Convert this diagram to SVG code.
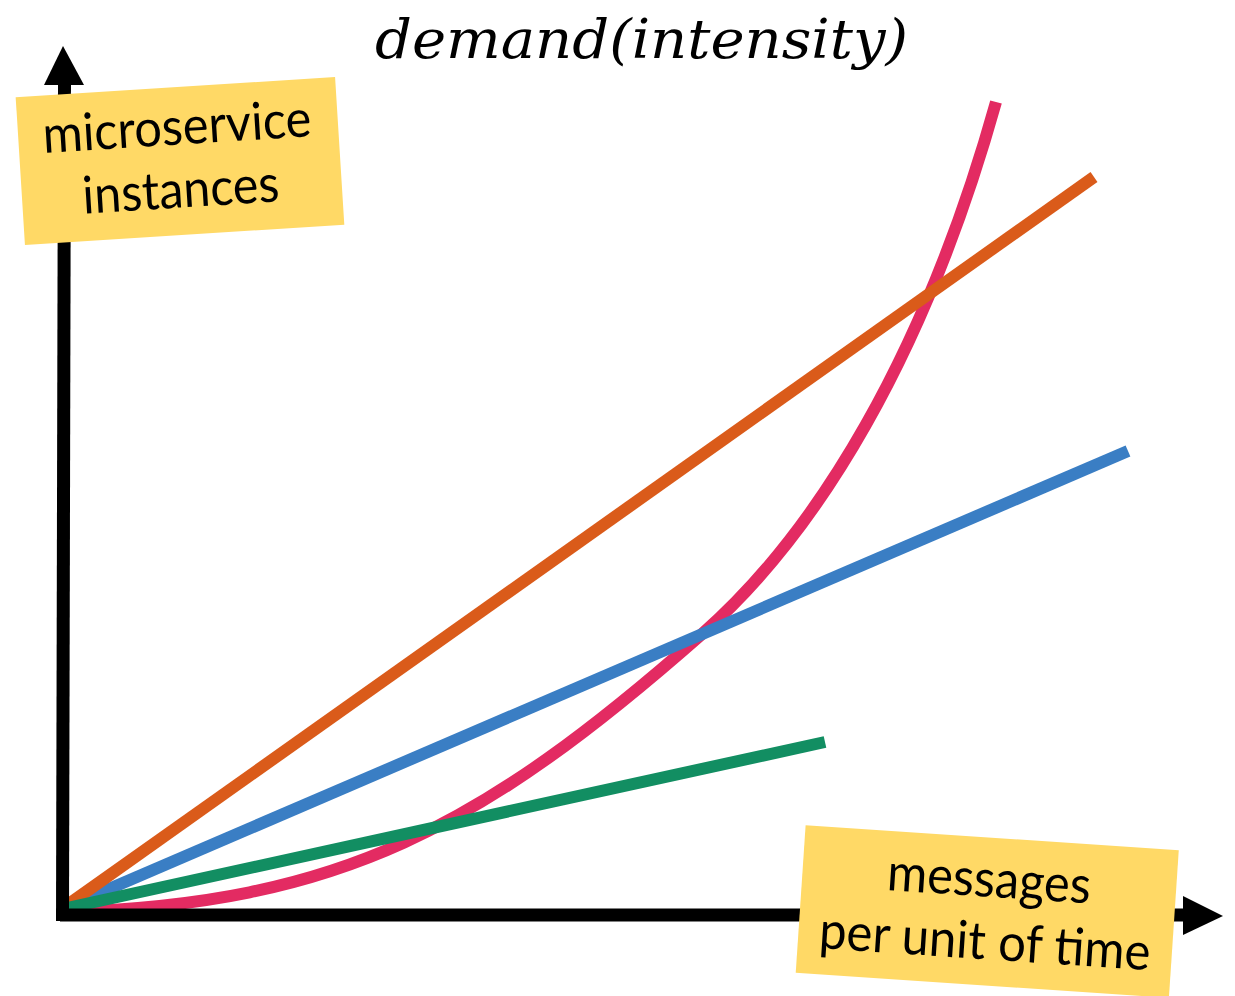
<svg xmlns="http://www.w3.org/2000/svg" width="1235" height="996" viewBox="0 0 1235 996">
  <style>
    .series { fill: none; stroke-width: 12; stroke-linecap: butt; stroke-linejoin: round; }
    .axis { stroke: #000000; stroke-width: 13; fill: none; }
    .head { fill: #000000; }
    .note { fill: #FFD966; }
    .lbl { font-family: Lato, "Open Sans", sans-serif; font-size: 52px; fill: #000000; text-anchor: middle; }
    .title { font-family: "DejaVu Serif", "Liberation Serif", serif; font-style: italic; font-size: 55px; fill: #000000; }
  </style>
  <rect x="0" y="0" width="1235" height="996" fill="#FFFFFF"/>

  <g id="title">
    <text class="title" x="375" y="58" textLength="533" lengthAdjust="spacingAndGlyphs">demand(intensity)</text>
  </g>

  <g id="connectors">
    <path id="curve-exponential" class="series" stroke="#E32B62" d="M65,912 C340,903.75 482,827.6 702,634 C817.5,532.4 924.95,355.8 996,102"/>
    <line id="line-blue" class="series" stroke="#3A7EC4" x1="67" y1="907" x2="1128" y2="451"/>
    <line id="line-orange" class="series" stroke="#DA5B1A" x1="66" y1="906" x2="1094" y2="177"/>
    <line id="line-green" class="series" stroke="#128E62" x1="67" y1="908" x2="825" y2="742"/>
    <g id="axes">
      <line class="axis" x1="64.5" y1="80" x2="62.5" y2="921"/>
      <polygon class="head" points="63,46 44,85 84,85"/>
      <line class="axis" x1="60" y1="915" x2="1190" y2="915"/>
      <polygon class="head" points="1223,916 1183,896 1183,935"/>
    </g>
  </g>

  <g id="label-y" transform="rotate(-3.6 180 161)">
    <rect class="note" x="20" y="87" width="320" height="148"/>
    <text class="lbl" x="179" y="144.5" textLength="269" lengthAdjust="spacingAndGlyphs">microservice</text>
    <text class="lbl" x="179" y="207.5" textLength="197" lengthAdjust="spacingAndGlyphs">instances</text>
  </g>

  <g id="label-x" transform="rotate(3.83 987.25 911.5)">
    <rect class="note" x="800.25" y="837.5" width="374" height="148"/>
    <text class="lbl" x="987" y="896.7" textLength="204" lengthAdjust="spacingAndGlyphs">messages</text>
    <text class="lbl" x="987" y="959.3" textLength="332" lengthAdjust="spacingAndGlyphs">per unit of time</text>
  </g>
</svg>
